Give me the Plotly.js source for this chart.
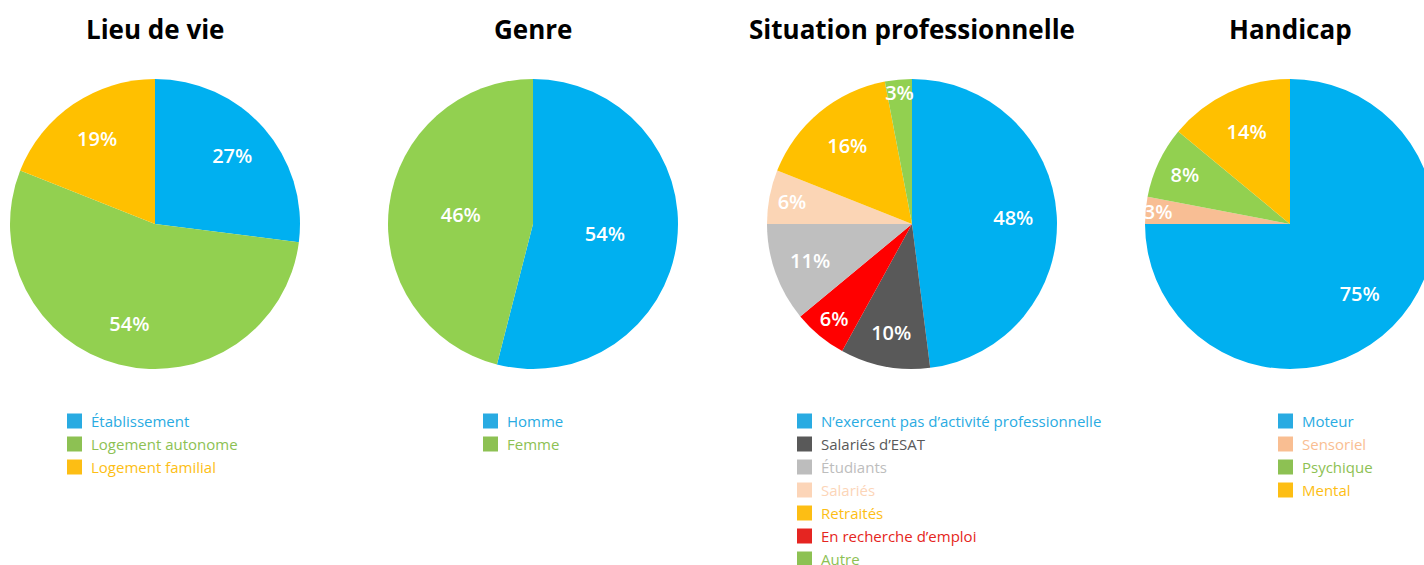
<!DOCTYPE html>
<html><head><meta charset="utf-8">
<script src="https://cdn.plot.ly/plotly-3.0.1.min.js"></script>
<style>html,body{margin:0;padding:0;overflow:hidden;background:#fff;width:1424px;height:565px}#chart{width:1440px;height:565px}</style>
</head><body><div id="chart"></div>
<script>
// ---- data ----
const titles = ["Lieu de vie", "Genre", "Situation professionnelle", "Handicap"];

const lieuLabels = ["Établissement", "Logement autonome", "Logement familial"];
const lieuValues = [27, 54, 19];

const genreLabels = ["Homme", "Femme"];
const genreValues = [54, 46];

// order of slices (clockwise from 12 o'clock)
const situLabels = ["N’exercent pas d’activité professionnelle", "Salariés d’ESAT", "En recherche d’emploi", "Étudiants", "Salariés", "Retraités", "Autre"];
const situValues = [48, 10, 6, 11, 6, 16, 3];
// legend order
const situLegend = ["N’exercent pas d’activité professionnelle", "Salariés d’ESAT", "Étudiants", "Salariés", "Retraités", "En recherche d’emploi", "Autre"];

const handiLabels = ["Moteur", "Sensoriel", "Psychique", "Mental"];
const handiValues = [75, 3, 8, 14];

// ---- styles ----
const colorMap = {
  "Établissement": "#00B0F0", "Logement autonome": "#92D050", "Logement familial": "#FFC000",
  "Homme": "#00B0F0", "Femme": "#92D050",
  "N’exercent pas d’activité professionnelle": "#00B0F0", "Salariés d’ESAT": "#595959",
  "En recherche d’emploi": "#FF0000", "Étudiants": "#BFBFBF", "Salariés": "#FBD5B5",
  "Retraités": "#FFC000", "Autre": "#92D050",
  "Moteur": "#00B0F0", "Sensoriel": "#F8BE94", "Psychique": "#92D050", "Mental": "#FFC000"
};
const legendColorMap = {
  "Établissement": "#29ABE2", "Logement autonome": "#8DC153", "Logement familial": "#FDBE14",
  "Homme": "#29ABE2", "Femme": "#8DC153",
  "N’exercent pas d’activité professionnelle": "#29ABE2", "Salariés d’ESAT": "#595959",
  "Étudiants": "#BDBDBD", "Salariés": "#FCD5B8", "Retraités": "#FDBE14",
  "En recherche d’emploi": "#E52521", "Autre": "#8DC153",
  "Moteur": "#29ABE2", "Sensoriel": "#F9BE92", "Psychique": "#8DC153", "Mental": "#FDBE14"
};

const W = 1440, H = 565;
const centersX = [155, 533, 912, 1290];
const cy = 224, R = 145;
const FONT = "Open Sans, sans-serif";
const labelHoles = [0.42, 0, 0.4, 0.36];

const groups = [
  {labels: lieuLabels, values: lieuValues, legend: lieuLabels, legX: 67},
  {labels: genreLabels, values: genreValues, legend: genreLabels, legX: 483},
  {labels: situLabels, values: situValues, legend: situLegend, legX: 797},
  {labels: handiLabels, values: handiValues, legend: handiLabels, legX: 1278}
];

const textfont = {color: "#ffffff", size: 20, family: FONT, weight: 600};
const data = [];
groups.forEach((g, i) => {
  const domain = {x: [(centersX[i] - R) / W, (centersX[i] + R) / W], y: [(H - cy - R) / H, (H - cy + R) / H]};
  const withText = labelHoles[i] === 0;
  data.push({
    type: "pie", labels: g.labels, values: g.values, sort: false,
    direction: "clockwise", rotation: 0,
    marker: {colors: g.labels.map(l => colorMap[l]), line: {width: 0}},
    textinfo: withText ? "text" : "none",
    texttemplate: withText ? "%{value}%" : "",
    textposition: withText ? "inside" : "none",
    insidetextorientation: "horizontal",
    textfont: textfont, showlegend: false, domain: domain
  });
  if (!withText) {
    data.push({
      type: "pie", labels: g.labels, values: g.values, sort: false,
      direction: "clockwise", rotation: 0, hole: labelHoles[i],
      marker: {colors: g.labels.map(() => "rgba(0,0,0,0)"), line: {width: 0}},
      texttemplate: "%{value}%", textposition: "inside",
      insidetextorientation: "horizontal",
      textfont: textfont, showlegend: false, domain: domain, hoverinfo: "skip"
    });
  }
});

const annotations = [];
const shapes = [];
titles.forEach((t, i) => {
  annotations.push({text: t, xref: "paper", yref: "paper", x: centersX[i] / W, y: (H - 29) / H,
    xanchor: "center", yanchor: "middle", showarrow: false,
    font: {family: FONT, size: 26, color: "#000", weight: 700}});
});
groups.forEach(g => {
  g.legend.forEach((lab, k) => {
    const yc = 421 + 23 * k;
    shapes.push({type: "rect", xref: "paper", yref: "paper",
      x0: g.legX / W, x1: (g.legX + 15) / W, y0: (H - yc - 7.5) / H, y1: (H - yc + 7.5) / H,
      fillcolor: legendColorMap[lab], line: {width: 0}});
    annotations.push({text: lab, xref: "paper", yref: "paper", x: (g.legX + 22) / W, y: (H - yc) / H,
      xanchor: "left", yanchor: "middle", showarrow: false,
      font: {family: FONT, size: 15, color: legendColorMap[lab]}});
  });
});

const layout = {
  width: W, height: H,
  margin: {l: 0, r: 0, t: 0, b: 0},
  paper_bgcolor: "#fff",
  showlegend: false,
  uniformtext: {mode: "show", minsize: 20},
  annotations: annotations,
  shapes: shapes
};
Plotly.newPlot("chart", data, layout, {displayModeBar: false, staticPlot: true});
</script></body></html>
